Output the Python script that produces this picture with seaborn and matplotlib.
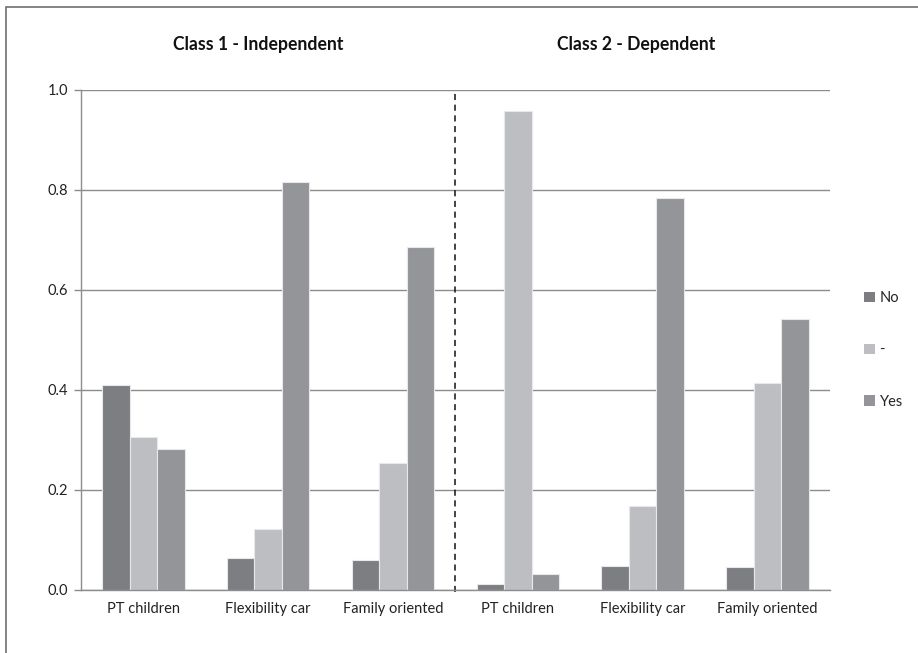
import numpy as np
import pandas as pd
import matplotlib
matplotlib.use("Agg")
import matplotlib.pyplot as plt
import seaborn as sns
from matplotlib.patches import Patch, Rectangle

# chart data
classes = ["Class 1 - Independent", "Class 2 - Dependent"]
items = ["PT children", "Flexibility car", "Family oriented"]
responses = ["No", "-", "Yes"]

class1_no = [0.41, 0.063, 0.060]
class1_dash = [0.305, 0.121, 0.254]
class1_yes = [0.282, 0.815, 0.686]

class2_no = [0.011, 0.047, 0.045]
class2_dash = [0.958, 0.168, 0.414]
class2_yes = [0.031, 0.784, 0.542]

colors = ["#7d7e82", "#bdbec2", "#949599"]

rows = []
for ci, (no, dash, yes) in enumerate([(class1_no, class1_dash, class1_yes),
                                      (class2_no, class2_dash, class2_yes)]):
    for ii, item in enumerate(items):
        key = f"{ci}|{item}"
        for resp, vals in zip(responses, [no, dash, yes]):
            rows.append({"slot": key, "response": resp, "value": vals[ii]})
df = pd.DataFrame(rows)
order = [f"{ci}|{item}" for ci in range(2) for item in items]

sns.set_style("white")
plt.rcParams["font.family"] = ["Lato", "DejaVu Sans"]

fig = plt.figure(figsize=(9.18, 6.53), dpi=100)
ax = fig.add_axes([0.0882, 0.0965, 0.8158, 0.7657])

sns.barplot(data=df, x="slot", y="value", hue="response", order=order,
            hue_order=responses, palette=colors, width=0.66, saturation=1,
            edgecolor="#e8e8ea", linewidth=0.8, ax=ax, legend=False)

ax.set_xlim(-0.5, 5.5)
ax.set_ylim(0, 1.0)
ax.set_yticks(np.arange(0, 1.01, 0.2))
ax.set_yticklabels([f"{v:.1f}" for v in np.arange(0, 1.01, 0.2)], fontsize=10.5, color="#222222")
ax.yaxis.grid(True, color="#8c8c8c", linewidth=1)
ax.set_axisbelow(True)

ax.set_xticks(range(6))
ax.set_xticklabels(items * 2, fontsize=10.5, color="#222222")
ax.set_xticks(np.arange(-0.5, 6, 1), minor=True)
ax.tick_params(axis="x", which="major", length=0, pad=9)
ax.tick_params(axis="x", which="minor", length=5, color="#8c8c8c", width=1)
ax.tick_params(axis="y", which="major", left=True, length=5, color="#8c8c8c", width=1, pad=4)
ax.set_xlabel("")
ax.set_ylabel("")

for side in ["top", "right"]:
    ax.spines[side].set_visible(False)
for side in ["left", "bottom"]:
    ax.spines[side].set_color("#8c8c8c")
    ax.spines[side].set_linewidth(1)

# divider between the two classes
ax.axvline(2.5, color="#111111", linestyle=(0, (4, 3)), linewidth=1.1,
           ymin=-0.005, ymax=1.0, clip_on=False)

# class titles above each group
title_x = [0.92, 3.95]
for ci, title in enumerate(classes):
    ax.text(title_x[ci], 1.09, title, ha="center", va="center",
            fontsize=12.7, fontweight="bold", color="#111111")

handles = [Patch(facecolor=c, edgecolor="none") for c in colors]
fig.legend(handles, responses, loc="center left", bbox_to_anchor=(0.935, 0.464),
           frameon=False, fontsize=10.5, handlelength=0.75, handleheight=0.75,
           handletextpad=0.3, labelspacing=2.6, borderaxespad=0)

# outer frame
fig.patches.append(Rectangle((0.006, -0.01), 0.999, 1.0, transform=fig.transFigure,
                             fill=False, edgecolor="#6e6e6e", linewidth=1.2))

fig.savefig("out.png", dpi=100)
